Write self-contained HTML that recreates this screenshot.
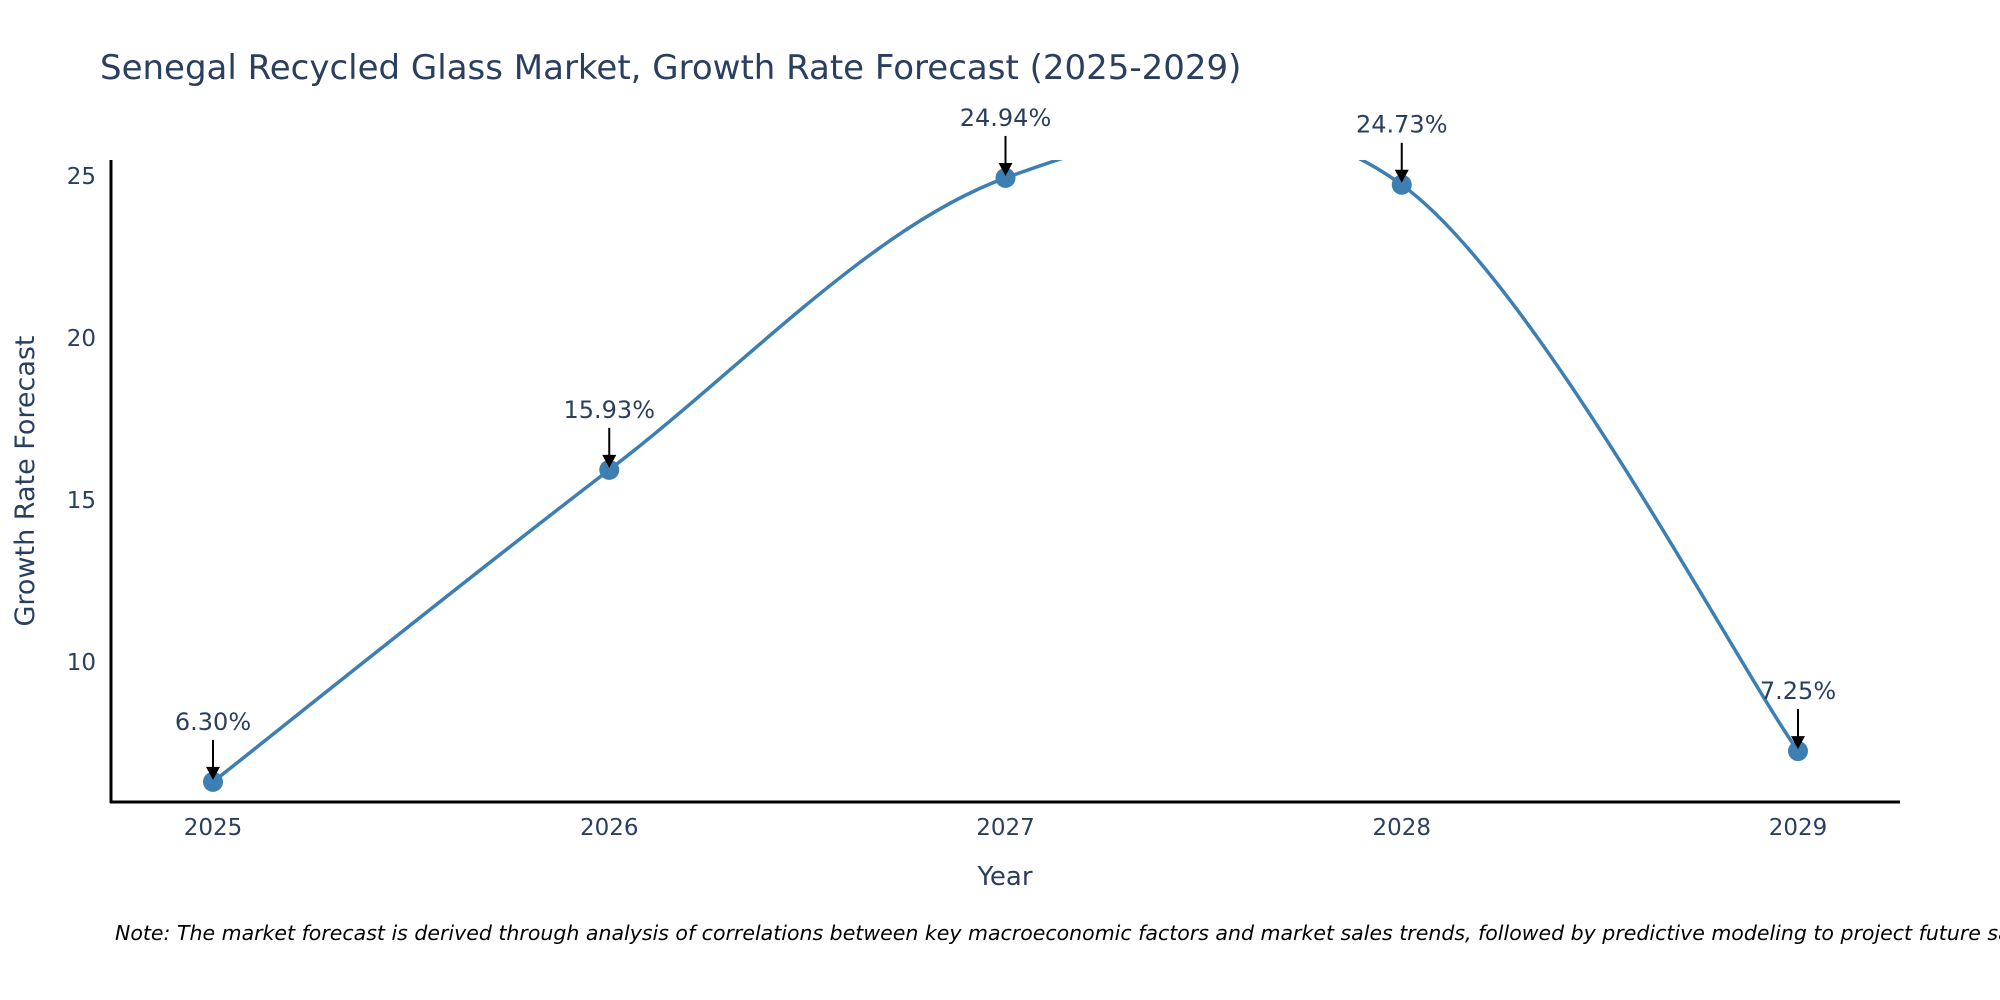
<!DOCTYPE html>
<html><head><meta charset="utf-8">
<style>
html,body{margin:0;padding:0;background:#fff;}
svg{display:block;font-family:"DejaVu Sans","Liberation Sans",sans-serif;}
</style></head>
<body>
<svg id="chart" width="2000" height="1000" viewBox="0 0 2000 1000" xmlns="http://www.w3.org/2000/svg">
<defs>
<clipPath id="plotclip"><rect x="110" y="160" width="1790" height="642"/></clipPath>
</defs>
<text x="100" y="79" font-size="34" fill="#2a3f5f">Senegal Recycled Glass Market, Growth Rate Forecast (2025-2029)</text>
<g id="yticks"></g>
<g id="xticks"></g>
<line x1="111" y1="160" x2="111" y2="803" stroke="#000" stroke-width="3"/>
<line x1="110" y1="802" x2="1900" y2="802" stroke="#000" stroke-width="3"/>
<g clip-path="url(#plotclip)"><path id="series-line" fill="none" stroke="#3d7fb3" stroke-width="3.5"/></g>
<g id="points"></g>
<g id="annots"></g>
<text x="1005" y="885" font-size="26" fill="#2a3f5f" text-anchor="middle">Year</text>
<text transform="translate(34,481) rotate(-90)" font-size="27" fill="#2a3f5f" text-anchor="middle">Growth Rate Forecast</text>
<text x="115" y="940" font-size="20.5" font-style="italic" fill="#000">Note: The market forecast is derived through analysis of correlations between key macroeconomic factors and market sales trends, followed by predictive modeling to project future sales.</text>
</svg>
<script>
const years = [2025, 2026, 2027, 2028, 2029];
const growth = [6.30, 15.93, 24.94, 24.73, 7.25];
const labels = ["6.30%", "15.93%", "24.94%", "24.73%", "7.25%"];
const yTicks = [10, 15, 20, 25];

const NS = "http://www.w3.org/2000/svg";
function xScale(v){ return 213 + (v - 2025) * 396.25; }
function yScale(v){ return 176 + (25 - v) * 32.4; }
function mk(tag, attrs, parent){ const e = document.createElementNS(NS, tag); for (const k in attrs) e.setAttribute(k, attrs[k]); parent.appendChild(e); return e; }

const yt = document.getElementById('yticks');
yTicks.forEach(t => {
  const e = mk('text', {x: 96, y: yScale(t) + 8, 'font-size': 23, fill: '#2a3f5f', 'text-anchor': 'end'}, yt);
  
  
  e.textContent = t;
});
const xt = document.getElementById('xticks');
years.forEach(y => {
  const e = mk('text', {x: xScale(y), y: 835, 'font-size': 23, fill: '#2a3f5f', 'text-anchor': 'middle'}, xt);
  
  
  e.textContent = y;
});

const pts = years.map((y, i) => [xScale(y), yScale(growth[i])]);
let d = 'M' + pts[0][0] + ',' + pts[0][1];
for (let i = 0; i < pts.length - 1; i++) {
  const p0 = pts[Math.max(0, i - 1)], p1 = pts[i], p2 = pts[i + 1], p3 = pts[Math.min(pts.length - 1, i + 2)];
  const c1 = [p1[0] + (p2[0] - p0[0]) / 6, p1[1] + (p2[1] - p0[1]) / 6];
  const c2 = [p2[0] - (p3[0] - p1[0]) / 6, p2[1] - (p3[1] - p1[1]) / 6];
  d += ' C' + c1.join(',') + ' ' + c2.join(',') + ' ' + p2.join(',');
}
document.getElementById('series-line').setAttribute('d', d);

const pg = document.getElementById('points');
const ag = document.getElementById('annots');
pts.forEach((p, i) => {
  const c = mk('circle', {cx: p[0], cy: p[1], r: 10, fill: '#3d7fb3'}, pg);
  
  
  const l = mk('line', {x1: p[0], y1: p[1] - 42, x2: p[0], y2: p[1] - 12, stroke: '#000', 'stroke-width': 2}, ag);
  
  
  const h = mk('polygon', {points: (p[0]-7)+','+(p[1]-15)+' '+(p[0]+7)+','+(p[1]-15)+' '+p[0]+','+(p[1]-2), fill: '#000'}, ag);
  
  
  const t = mk('text', {x: p[0], y: p[1] - 52, 'font-size': 24, fill: '#2a3f5f', 'text-anchor': 'middle'}, ag);
  
  
  t.textContent = labels[i];
});
</script>
</body></html>
